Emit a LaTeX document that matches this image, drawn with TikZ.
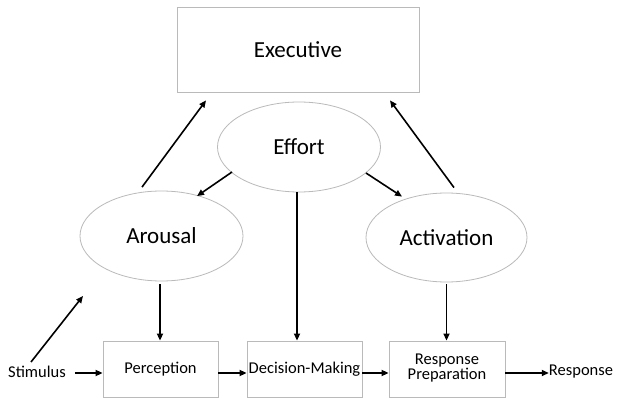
\documentclass[tikz,border=0pt]{standalone}
\usepackage{fontspec}
\setmainfont{Carlito}
\usetikzlibrary{shapes.geometric,arrows.meta,calc}
\begin{document}
\begin{tikzpicture}[x=1pt,y=-1pt,
  shapeline/.style={draw=black!27, line width=0.8pt},
  bigbox/.style={shapeline, rectangle, minimum width=242pt, minimum height=85pt, inner sep=0pt, font=\fontsize{23}{27}\selectfont},
  oval/.style={shapeline, ellipse, minimum width=163pt, minimum height=90pt, inner sep=0pt, font=\fontsize{23}{27}\selectfont},
  stage/.style={shapeline, rectangle, minimum width=115pt, minimum height=56pt, inner sep=0pt, align=center, font=\fontsize{16.5}{13.5}\selectfont},
  lab/.style={font=\fontsize{16.5}{14}\selectfont, inner sep=0pt},
  arr/.style={-{Triangle[length=7pt,width=6pt]}, line width=1.6pt, black}]
\useasboundingbox[fill=white] (0,0) rectangle (618,403);
% upper level
\node[bigbox] (exec) at (298,49.5) {\raisebox{-3pt}{Executive}};
\node[oval] (effort) at (299,147) {Effort};
\node[oval] (arousal) at (161.5,236) {Arousal};
\node[oval, minimum width=161pt, minimum height=89pt] (activation) at (446.5,237.5) {Activation};
% stages
\node[stage] (perc) at (160.5,369) {\raisebox{-1pt}{Perception}};
\node[stage] (dec) at (304.5,369) {\raisebox{-1pt}{Decision-Making}};
\node[stage, minimum width=116pt] (resp) at (447,369) {\raisebox{-5pt}{\begin{tabular}{@{}c@{}}Response\\Preparation\end{tabular}}};
\node[lab] (stim) at (37,372) {Stimulus};
\node[lab] (response) at (581,372) {Response};
\coordinate (stimend) at (83,296);
% arrows
\draw[arr] ([shift={(-19.5,-3.5)}]arousal.north) -- ([shift={(-92,8)}]exec.south);
\draw[arr] ([shift={(7.5,-5)}]activation.north) -- ([shift={(92,8)}]exec.south);
\draw[arr] ([shift={(-67,25)}]effort.center) -- ([shift={(35.5,5.5)}]arousal.north);
\draw[arr] ([shift={(67,26)}]effort.center) -- ([shift={(-44.5,4)}]activation.north);
\draw[arr] ([shift={(-2,0)}]effort.south) -- ([shift={(-2,0)}]effort.south |- dec.north);
\draw[arr] ([shift={(-1.5,3)}]arousal.south) -- ([shift={(-1.5,0)}]arousal.south |- perc.north);
\draw[arr] ([shift={(0,2)}]activation.south) -- (activation.south |- resp.north);
\draw[arr] ([shift={(-6,-4)}]stim.north) -- (stimend);
\draw[arr] ([shift={(9,1)}]stim.east) -- ([shift={(0,4)}]perc.west);
\draw[arr] ([shift={(0,4)}]perc.east) -- ([shift={(0,4)}]dec.west);
\draw[arr] ([shift={(0,4)}]dec.east) -- ([shift={(0,4)}]resp.west);
\draw[arr] ([shift={(0,4)}]resp.east) -- ([shift={(0,1)}]response.west);
\end{tikzpicture}
\end{document}
